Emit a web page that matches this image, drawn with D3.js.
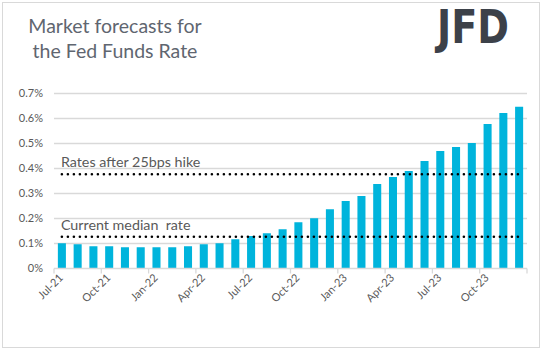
<!DOCTYPE html>
<html>
<head>
<meta charset="utf-8">
<script src="https://cdn.jsdelivr.net/npm/d3@7"></script>
<style>
  body { margin: 0; background: #fff; }
  text { font-family: Lato, "Open Sans", sans-serif; fill: #595959; }
</style>
</head>
<body>
<div id="chart"></div>
<script>
const months = ['Jul-21', 'Aug-21', 'Sep-21', 'Oct-21', 'Nov-21', 'Dec-21',
    'Jan-22', 'Feb-22', 'Mar-22', 'Apr-22', 'May-22', 'Jun-22',
    'Jul-22', 'Aug-22', 'Sep-22', 'Oct-22', 'Nov-22', 'Dec-22',
    'Jan-23', 'Feb-23', 'Mar-23', 'Apr-23', 'May-23', 'Jun-23',
    'Jul-23', 'Aug-23', 'Sep-23', 'Oct-23', 'Nov-23', 'Dec-23'];
const rates = [0.099, 0.095, 0.087, 0.087, 0.083, 0.083, 0.083, 0.083, 0.087, 0.095,
    0.099, 0.115, 0.128, 0.139, 0.155, 0.183, 0.199, 0.235, 0.268, 0.288,
    0.336, 0.364, 0.388, 0.428, 0.468, 0.484, 0.500, 0.576, 0.620, 0.645];
const yTicks = [0, 0.1, 0.2, 0.3, 0.4, 0.5, 0.6, 0.7];
const refLines = [
    { label: 'Rates after 25bps hike', value: 0.375 },
    { label: 'Current median  rate', value: 0.125 }
];

const width = 543, height = 351;
const margin = { left: 54, top: 93, right: 16, bottom: 83 };

const svg = d3.select('#chart').append('svg')
    .attr('width', width)
    .attr('height', height);

// outer frame
svg.append('rect')
    .attr('x', 2.5).attr('y', 2.5)
    .attr('width', 537).attr('height', 345)
    .attr('fill', '#fff').attr('stroke', '#d9d9d9');

const x = d3.scaleBand().domain(months)
    .range([margin.left, width - margin.right])
    .paddingInner(0.49).paddingOuter(0.245);
const y = d3.scaleLinear().domain([0, 0.7])
    .range([height - margin.bottom, margin.top]);

// grid
svg.append('g').selectAll('line').data(yTicks.slice(1)).enter()
    .append('line')
    .attr('x1', margin.left).attr('x2', width - margin.right)
    .attr('y1', d => Math.round(y(d)) + 0.5).attr('y2', d => Math.round(y(d)) + 0.5)
    .attr('stroke', '#d9d9d9').attr('stroke-width', 1.3);

// y labels
svg.append('g').selectAll('text').data(yTicks).enter()
    .append('text')
    .attr('x', 43).attr('y', d => y(d) + 4)
    .attr('text-anchor', 'end')
    .attr('font-size', 11)
    .text(d => (d === 0 ? '0' : d.toFixed(1)) + '%');

// bars
svg.append('g').selectAll('rect').data(rates).enter()
    .append('rect')
    .attr('x', (d, i) => x(months[i]))
    .attr('width', x.bandwidth())
    .attr('y', d => y(d))
    .attr('height', d => y(0) - y(d))
    .attr('fill', '#00b4dc');

// x axis line + ticks
const step = x.step();
const axisY = Math.round(y(0)) + 0.5;
svg.append('line')
    .attr('x1', margin.left).attr('x2', width - margin.right)
    .attr('y1', axisY).attr('y2', axisY)
    .attr('stroke', '#d9d9d9').attr('stroke-width', 1.3);
const tickIdx = d3.range(0, months.length + 1, 3);
svg.append('g').selectAll('line').data(tickIdx).enter()
    .append('line')
    .attr('x1', i => margin.left + i * step).attr('x2', i => margin.left + i * step)
    .attr('y1', axisY).attr('y2', axisY + 5)
    .attr('stroke', '#d9d9d9').attr('stroke-width', 1.3);

// x labels
svg.append('g').selectAll('text').data(months.filter((m, i) => i % 3 === 0)).enter()
    .append('text')
    .attr('text-anchor', 'end')
    .attr('font-size', 11)
    .attr('transform', d => `translate(${x(d) + x.bandwidth() / 2 + 2},${axisY + 10}) rotate(-45)`)
    .text(d => d);

// reference lines
const x0 = x(months[0]) + x.bandwidth() / 2;
const x1 = x(months[months.length - 1]) + x.bandwidth() / 2;
refLines.forEach(r => {
    svg.append('line')
        .attr('x1', x0).attr('x2', x1)
        .attr('y1', y(r.value)).attr('y2', y(r.value))
        .attr('stroke', '#000').attr('stroke-width', 2.6)
        .attr('stroke-linecap', 'round')
        .attr('stroke-dasharray', '0 6');
    svg.append('text')
        .attr('x', x0 - 1).attr('y', y(r.value) - 7)
        .attr('font-size', 14.3)
        .style('white-space', 'pre')
        .text(r.label);
});

// title
const title = svg.append('text')
    .attr('text-anchor', 'middle')
    .attr('font-size', 19.5)
    .style('fill', '#5f6670');
title.append('tspan').attr('x', 115).attr('y', 33).text('Market forecasts for');
title.append('tspan').attr('x', 115).attr('y', 58).text('the Fed Funds Rate');

// logo
svg.append('text')
    .attr('x', 437).attr('y', 43)
    .attr('font-size', 46)
    .attr('font-weight', 700)
    .attr('textLength', 72)
    .attr('lengthAdjust', 'spacingAndGlyphs')
    .style('fill', '#3c4149')
    .style('font-family', '"DejaVu Sans", sans-serif')
    .text('JFD');
</script>
</body>
</html>
